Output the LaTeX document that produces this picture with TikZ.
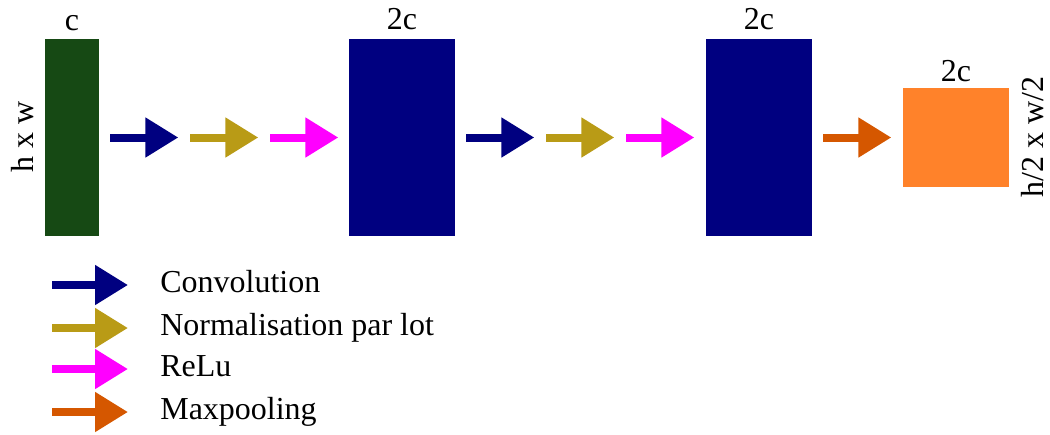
\documentclass[tikz,border=0pt]{standalone}
\usepackage{fontspec}
\setmainfont{Liberation Serif}
\usetikzlibrary{positioning,arrows.meta}
\definecolor{Cvert}{RGB}{22,73,20}
\definecolor{Cmarine}{RGB}{0,0,128}
\definecolor{Colive}{RGB}{185,155,22}
\definecolor{Cmagenta}{RGB}{255,0,255}
\definecolor{Corange}{RGB}{213,87,0}
\definecolor{Corclair}{RGB}{255,130,42}
\newlength{\unitpx}
\setlength{\unitpx}{0.02cm}

\begin{document}
\begin{tikzpicture}[x=\unitpx, y=-\unitpx,
    font=\rmfamily\fontsize{18.2pt}{21pt}\selectfont,
    bloc/.style={inner sep=0pt, minimum height=197\unitpx},
    etiquette/.style={inner sep=0pt},
    fleche/.style={line width=0.16cm,
      -{Triangle[length=0.66cm, width=0.76cm]}}]
  \useasboundingbox (0,0) rectangle (1050,434);
  % blocs
  \node[bloc, fill=Cvert, minimum width=54\unitpx] (A) at (72,137.5) {};
  \node[bloc, fill=Cmarine, minimum width=106\unitpx] (B) at (402,137.5) {};
  \node[bloc, fill=Cmarine, minimum width=106\unitpx] (C) at (759,137.5) {};
  \node[bloc, fill=Corclair, minimum width=106\unitpx,
        minimum height=99\unitpx] (D) at (956,137.5) {};
  % dimensions
  \node[etiquette, above=7\unitpx of A] (cA) {c};
  \node[etiquette, above=8\unitpx of B] (cB) {2c};
  \node[etiquette, above=8\unitpx of C] (cC) {2c};
  \node[etiquette, above=5\unitpx of D] (cD) {2c};
  \node[etiquette, rotate=90, anchor=base] (hw) at (33,137) {h x w};
  \node[etiquette, rotate=90, anchor=base] (hw2) at (1043,137) {h/2 x w/2};
  % operations
  \foreach \col/\dx in {Cmarine/11,Colive/91,Cmagenta/171} {
    \draw[fleche, \col] ([xshift=\dx\unitpx]A.east) -- ++(68,0);
    \draw[fleche, \col] ([xshift=\dx\unitpx]B.east) -- ++(68,0);
  }
  \draw[fleche, Corange] ([xshift=11\unitpx]C.east) -- ++(68,0);
  % legende
  \foreach \col/\txt/\y [count=\i] in {Cmarine/Convolution/285,
      Colive/Normalisation par lot/328, Cmagenta/ReLu/369,
      Corange/Maxpooling/412} {
    \coordinate (l\i) at (128,\y);
    \draw[fleche, \col] (52,\y) -- (l\i);
    \node[etiquette, anchor=base west] (t\i) at ([xshift=32\unitpx, yshift=-7\unitpx]l\i) {\txt};
  }
\end{tikzpicture}
\end{document}
